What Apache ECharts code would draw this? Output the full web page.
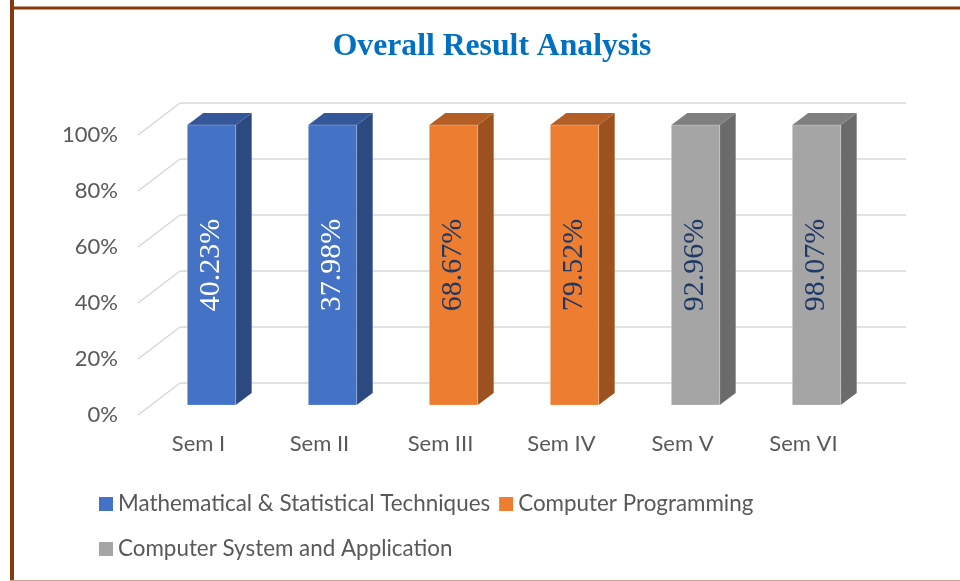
<!DOCTYPE html>
<html>
<head>
<meta charset="utf-8">
<script src="https://cdn.jsdelivr.net/npm/echarts@6/dist/echarts.min.js"></script>
<style>
html, body { margin: 0; padding: 0; background: #fff; }
#main { width: 960px; height: 581px; }
</style>
</head>
<body>
<div id="main"></div>
<script>
// data
const categories = ['Sem I', 'Sem II', 'Sem III', 'Sem IV', 'Sem V', 'Sem VI'];
const mathStat = [40.23, 37.98, null, null, null, null];
const compProg = [null, null, 68.67, 79.52, null, null];
const compSys = [null, null, null, null, 92.96, 98.07];
const yTicks = [0, 20, 40, 60, 80, 100];

const chart = echarts.init(document.getElementById('main'));

// depth of the 3d box (back wall offset from the front plane, px)
const DEPTH = [42, -32];
const FONT = 'Lato';

// 100% stacked: each column is scaled to the category total
const all = [mathStat, compProg, compSys];
const totals = categories.map((c, i) => all.reduce((s, arr) => s + (arr[i] || 0), 0));
function toData(arr) {
  const out = [];
  arr.forEach((v, i) => {
    if (v != null) out.push([i, v / totals[i] * 100, v]);
  });
  return out;
}

function barItem(front, side, topc, labelColor) {
  return function (params, api) {
    const cat = api.value(0);
    const pct = api.value(1);
    const raw = api.value(2);
    const t = api.coord([cat, pct]);
    const b = api.coord([cat, 0]);
    const w = api.size([1, 0])[0] * 0.4;
    const ox = DEPTH[0] * 0.31, oy = DEPTH[1] * 0.31;
    const sx = DEPTH[0] * 0.38, sy = DEPTH[1] * 0.38;
    const x0 = t[0] - w / 2 + ox, x1 = x0 + w;
    const yt = t[1] + oy, yb = b[1] + oy;
    return {
      type: 'group',
      children: [
        {
          type: 'polygon',
          shape: { points: [[x1, yt], [x1 + sx, yt + sy], [x1 + sx, yb + sy], [x1, yb]] },
          style: { fill: side }
        },
        {
          type: 'polygon',
          shape: { points: [[x0, yt], [x1, yt], [x1 + sx, yt + sy], [x0 + sx, yt + sy]] },
          style: { fill: topc }
        },
        {
          type: 'rect',
          shape: { x: x0, y: yt, width: w, height: yb - yt },
          style: { fill: front, stroke: 'rgba(255,255,255,0.25)', lineWidth: 1 }
        },
        {
          type: 'text',
          x: x0 + w / 2,
          y: (yt + yb) / 2,
          rotation: Math.PI / 2,
          style: {
            text: raw.toFixed(2) + '%',
            fill: labelColor,
            font: '30px "Liberation Serif", "Times New Roman", serif',
            align: 'center',
            verticalAlign: 'middle'
          }
        }
      ]
    };
  };
}

function wallItem(params, api) {
  const y = api.coord([0, api.value(1)])[1];
  const cs = params.coordSys;
  const x = cs.x;
  const ls = { stroke: '#d9d9d9', lineWidth: 1.5 };
  return {
    type: 'group',
    children: [
      { type: 'line', shape: { x1: x, y1: y, x2: x + DEPTH[0], y2: y + DEPTH[1] }, style: ls },
      { type: 'line', shape: { x1: x + DEPTH[0], y1: y + DEPTH[1], x2: x + DEPTH[0] + cs.width, y2: y + DEPTH[1] }, style: ls }
    ]
  };
}

const option = {
  backgroundColor: '#fff',
  animation: false,
  title: {
    text: 'Overall Result Analysis',
    left: 487,
    top: 26,
    textAlign: 'center',
    textStyle: {
      color: '#0070c0',
      fontFamily: '"Liberation Serif", "Times New Roman", serif',
      fontWeight: 'bold',
      fontSize: 31.7
    }
  },
  legend: {
    left: 94,
    top: 481,
    width: 700,
    icon: 'rect',
    itemWidth: 14,
    itemHeight: 14,
    itemGap: 9,
    data: ['Mathematical & Statistical Techniques', 'Computer Programming', 'Computer System and Application'],
    textStyle: { color: '#595959', fontSize: 22.4, fontFamily: FONT, lineHeight: 36 }
  },
  grid: { left: 138, top: 135, width: 726, height: 280 },
  xAxis: {
    type: 'category',
    data: categories,
    axisLine: { show: false },
    axisTick: { show: false },
    axisLabel: { color: '#595959', fontSize: 22, fontFamily: FONT, margin: 18 }
  },
  yAxis: {
    type: 'value',
    min: 0,
    max: 100,
    interval: 20,
    axisLine: { show: false },
    axisTick: { show: false },
    splitLine: { show: false },
    axisLabel: { color: '#595959', fontSize: 22, fontFamily: FONT, margin: 20, formatter: '{value}%' }
  },
  series: [
    {
      name: 'wall',
      type: 'custom',
      z: 1,
      silent: true,
      clip: false,
      renderItem: wallItem,
      data: yTicks.map(v => [0, v])
    },
    {
      name: 'Mathematical & Statistical Techniques',
      type: 'custom',
      z: 3,
      clip: false,
      itemStyle: { color: '#4472c4' },
      renderItem: barItem('#4472c4', '#2c4a80', '#34579a', '#ffffff'),
      data: toData(mathStat)
    },
    {
      name: 'Computer Programming',
      type: 'custom',
      z: 3,
      clip: false,
      itemStyle: { color: '#ed7d31' },
      renderItem: barItem('#ed7d31', '#9c521f', '#b35e24', '#1f3864'),
      data: toData(compProg)
    },
    {
      name: 'Computer System and Application',
      type: 'custom',
      z: 3,
      clip: false,
      itemStyle: { color: '#a5a5a5' },
      renderItem: barItem('#a5a5a5', '#6b6b6b', '#7f7f7f', '#1f3864'),
      data: toData(compSys)
    }
  ],
  graphic: [
    { type: 'line', shape: { x1: 12, y1: 0, x2: 12, y2: 581 }, style: { stroke: '#843c0c', lineWidth: 4 } },
    { type: 'line', shape: { x1: 10, y1: 8, x2: 960, y2: 8 }, style: { stroke: '#843c0c', lineWidth: 3 } },
    { type: 'line', shape: { x1: 10, y1: 580.5, x2: 960, y2: 580.5 }, style: { stroke: '#c9a08a', lineWidth: 1 } }
  ]
};

chart.setOption(option);
</script>
</body>
</html>
